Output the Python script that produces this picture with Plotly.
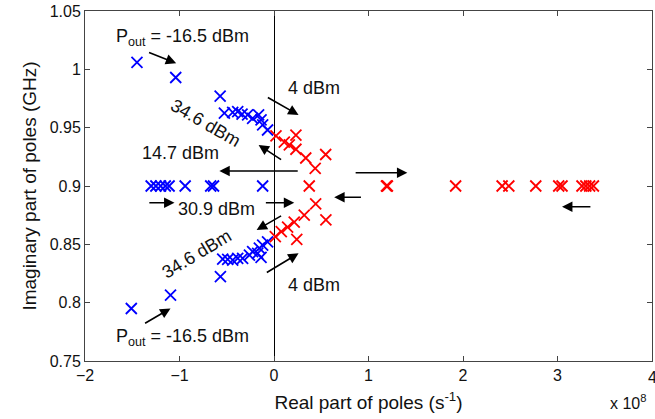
import plotly.graph_objects as go

# Real part in units of 1e8 s^-1, imaginary part in GHz
blue_x = [-1.45, -1.04, -0.57, -0.525, -0.437, -0.384, -0.338, -0.279, -0.226, -0.163, -0.137, -0.120, -0.068,
          -1.30, -1.25, -1.20, -1.15, -1.11, -0.94, -0.67, -0.64, -0.12,
          -1.51, -1.095, -0.567, -0.543, -0.49, -0.437, -0.384, -0.332, -0.26, -0.226, -0.173, -0.155, -0.137, -0.12, -0.068]
blue_y = [1.006, 0.993, 0.977, 0.9624, 0.9632, 0.9637, 0.9617, 0.9609, 0.958, 0.9609, 0.9566, 0.9523, 0.948,
          0.9, 0.9, 0.9, 0.9, 0.9, 0.9, 0.9, 0.9, 0.9,
          0.795, 0.8065, 0.8224, 0.8374, 0.8371, 0.8365, 0.838, 0.838, 0.8408, 0.8437, 0.8423, 0.8468, 0.8388, 0.8494, 0.8522]

red_x = [0.021, 0.109, 0.232, 0.162, 0.232, 0.336, 0.547, 0.436,
         0.373, 1.19, 1.20, 1.922, 2.414, 2.485, 2.77, 3.013, 3.048, 3.259, 3.30, 3.34, 3.38,
         0.441, 0.32, 0.549, 0.214, 0.144, 0.077, 0.014, 0.241]
red_y = [0.9429, 0.9377, 0.9437, 0.9352, 0.9315, 0.924, 0.927, 0.9152,
         0.9, 0.9, 0.9, 0.9, 0.9, 0.9, 0.9, 0.9, 0.9, 0.9, 0.9, 0.9, 0.9,
         0.8846, 0.875, 0.871, 0.869, 0.8648, 0.8608, 0.8567, 0.8543]

x_ticks = [-2, -1, 0, 1, 2, 3, 4]
y_ticks = [0.75, 0.8, 0.85, 0.9, 0.95, 1.0, 1.05]
y_tick_text = ["0.75", "0.8", "0.85", "0.9", "0.95", "1", "1.05"]

# arrows: (tail_x, tail_y, head_x, head_y)
arrows = [
    (-1.338, 1.0149, -1.035, 1.0052),
    (-0.081, 0.9766, 0.260, 0.9609),
    (0.091, 0.9217, -0.163, 0.9352),
    (0.267, 0.9129, -0.578, 0.9129),
    (0.848, 0.9114, 1.411, 0.9114),
    (0.936, 0.8903, 0.637, 0.8903),
    (3.364, 0.8822, 3.048, 0.8822),
    (-1.335, 0.8857, -1.053, 0.8857),
    (-0.102, 0.8857, 0.214, 0.8857),
    (0.091, 0.8751, -0.184, 0.8623),
    (-0.092, 0.8251, 0.260, 0.8423),
    (-1.380, 0.7816, -1.095, 0.7951),
]

labels = [
    ("P<sub>out</sub> = -16.5 dBm", -0.967, 1.027, 0),
    ("4 dBm", 0.426, 0.984, 0),
    ("34.6 dBm", -0.725, 0.954, 30),
    ("14.7 dBm", -0.989, 0.928, 0),
    ("30.9 dBm", -0.609, 0.880, 0),
    ("34.6 dBm", -0.82, 0.842, -31),
    ("4 dBm", 0.426, 0.815, 0),
    ("P<sub>out</sub> = -16.5 dBm", -0.967, 0.7705, 0),
]

FONT = "Liberation Sans, Arial, sans-serif"

fig = go.Figure()
fig.add_trace(go.Scatter(x=blue_x, y=blue_y, mode="markers",
                         marker=dict(symbol="x-thin-open", size=11, color="#0000ff", opacity=1,
                                     line=dict(color="#0000ff", width=1.8)),
                         showlegend=False))
fig.add_trace(go.Scatter(x=red_x, y=red_y, mode="markers",
                         marker=dict(symbol="x-thin-open", size=11, color="#ff0000", opacity=1,
                                     line=dict(color="#ff0000", width=1.8)),
                         showlegend=False))

anns = []
for tx, ty, hx, hy in arrows:
    anns.append(dict(x=hx, y=hy, ax=tx, ay=ty, xref="x", yref="y", axref="x", ayref="y",
                     text="", showarrow=True, arrowhead=2, arrowsize=1.3, arrowwidth=1.6,
                     arrowcolor="black", standoff=0, startstandoff=0))
for t, x, y, ang in labels:
    anns.append(dict(x=x, y=y, xref="x", yref="y", text=t, showarrow=False, textangle=ang,
                     font=dict(family=FONT, size=18, color="#111")))
anns.append(dict(x=0.993, y=-0.117, xref="paper", yref="paper", text="x 10<sup>8</sup>",
                 showarrow=False, xanchor="right", yanchor="middle",
                 font=dict(family=FONT, size=16, color="#111")))
# the "4" tick label at the right edge, cut by the page edge as in the reference
anns.append(dict(x=4, y=-0.017, xref="x", yref="paper", text="4", showarrow=False,
                 xanchor="center", yanchor="top", font=dict(family=FONT, size=16, color="#111")))

fig.update_layout(
    width=655, height=419,
    margin=dict(l=85, r=3, t=11, b=58),
    paper_bgcolor="white", plot_bgcolor="white",
    font=dict(family=FONT, size=16, color="#111"),
    annotations=anns,
    xaxis=dict(range=[-2, 4], tickvals=x_ticks, ticks="inside", ticklen=5, tickcolor="#444",
               showline=True, linecolor="#444", linewidth=1, mirror="ticks", showgrid=False,
               zeroline=True, zerolinecolor="black", zerolinewidth=1,
               tickfont=dict(size=16), title=dict(text="Real part of poles (s<sup>-1</sup>)",
                                                   font=dict(size=19), standoff=12)),
    yaxis=dict(range=[0.75, 1.05], tickvals=y_ticks, ticktext=y_tick_text, ticks="inside", ticklen=5,
               tickcolor="#444", showline=True, linecolor="#444", linewidth=1, mirror="ticks",
               showgrid=False, zeroline=False, tickfont=dict(size=16),
               title=dict(text="Imaginary part of poles (GHz)", font=dict(size=19), standoff=8)),
)

fig.write_html("out.html")
